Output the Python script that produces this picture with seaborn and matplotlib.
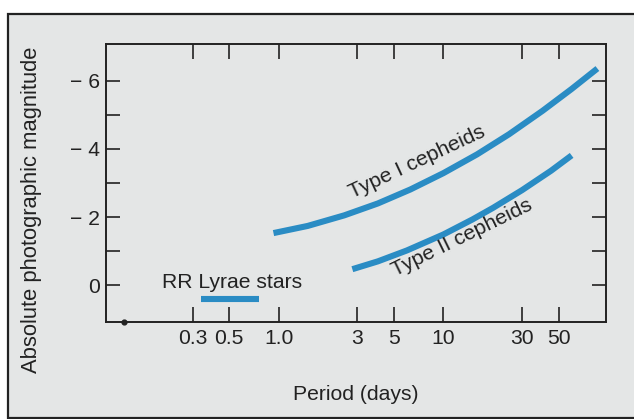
import matplotlib
matplotlib.use("Agg")
import matplotlib.pyplot as plt
import matplotlib.patches as mpatches
from matplotlib.ticker import FixedLocator, FixedFormatter, NullLocator
import seaborn as sns
import pandas as pd

# ---------------- data ----------------
type1_period = [0.93, 1.5, 2.5, 4, 6.3, 10, 16, 25, 40, 60, 86]
type1_mag = [-1.53, -1.74, -2.05, -2.40, -2.81, -3.29, -3.84, -4.43, -5.12, -5.76, -6.36]

type2_period = [2.8, 4, 6, 10, 15, 20, 30, 45, 60]
type2_mag = [-0.47, -0.70, -1.02, -1.49, -1.93, -2.27, -2.79, -3.36, -3.81]

rr_period = [0.34, 0.76]
rr_mag = [0.40, 0.40]

x_ticks = [0.3, 0.5, 1.0, 3, 5, 10, 30, 50]
x_tick_labels = ["0.3", "0.5", "1.0", "3", "5", "10", "30", "50"]
y_ticks = [-6, -5, -4, -3, -2, -1, 0]
y_tick_labels = ["\u2212 6", "", "\u2212 4", "", "\u2212 2", "", "0"]

labels = ["RR Lyrae stars", "Type I cepheids", "Type II cepheids"]
label_period = [0.52, 6.9, 13.0]
label_mag = [-0.08, -3.62, -1.40]
label_rot = [0, 25, 26]

# ---------------- style ----------------
sns.set_theme(style="white")
plt.rcParams["font.family"] = ["Liberation Sans", "DejaVu Sans"]

BG = "#e4e6e6"
BLUE = "#2a8cc4"
FS = 15.2

fig = plt.figure(figsize=(6.34, 4.19), dpi=100)
fig.patch.set_facecolor("white")

# outer frame
frame = mpatches.Rectangle((8 / 634, 1 / 419), 1.0, (418 - 14) / 419,
                           transform=fig.transFigure, facecolor=BG,
                           edgecolor="#222222", linewidth=1.6, zorder=-10)
fig.add_artist(frame)

ax = fig.add_axes([106 / 634, (419 - 322) / 419, (606 - 106) / 634, (322 - 44) / 419])
ax.set_zorder(1)
ax.set_facecolor(BG)

df1 = pd.DataFrame({"period": type1_period, "mag": type1_mag})
df2 = pd.DataFrame({"period": type2_period, "mag": type2_mag})
df3 = pd.DataFrame({"period": rr_period, "mag": rr_mag})

lw = 4.4
for d in (df1, df2, df3):
    sns.lineplot(data=d, x="period", y="mag", ax=ax, color=BLUE, linewidth=lw,
                 solid_capstyle="butt", solid_joinstyle="round",
                 sort=False, estimator=None)

ax.set_xscale("log")
ax.set_xlim(0.0895, 97)
ax.set_ylim(1.08, -7.08)

ax.xaxis.set_major_locator(FixedLocator(x_ticks))
ax.xaxis.set_major_formatter(FixedFormatter(x_tick_labels))
ax.xaxis.set_minor_locator(NullLocator())
ax.yaxis.set_major_locator(FixedLocator(y_ticks))
ax.yaxis.set_major_formatter(FixedFormatter(y_tick_labels))

ax.tick_params(axis="x", which="major", direction="in", length=11, width=1.2,
               top=True, bottom=True, labelsize=FS, pad=5, colors="#222222")
ax.tick_params(axis="y", which="major", direction="in", length=10, width=1.2,
               left=True, right=True, labelsize=FS, pad=4, colors="#222222")

for s in ax.spines.values():
    s.set_color("#222222")
    s.set_linewidth(1.4)

ax.set_xlabel("Period (days)", fontsize=FS, color="#222222", labelpad=27)
ax.set_ylabel("Absolute photographic magnitude", fontsize=15.8, color="#222222")
ax.yaxis.set_label_coords(-0.128, 0.403)

# small dot at the origin of the axis
ax.scatter([0.115], [1.08], s=12, color="#222222", clip_on=False, zorder=5)

for t, px, my, r in zip(labels, label_period, label_mag, label_rot):
    ax.text(px, my, t, fontsize=FS, color="#222222", rotation=r,
            rotation_mode="anchor", ha="center", va="center")

fig.savefig("out.png", dpi=100, facecolor=fig.get_facecolor())
